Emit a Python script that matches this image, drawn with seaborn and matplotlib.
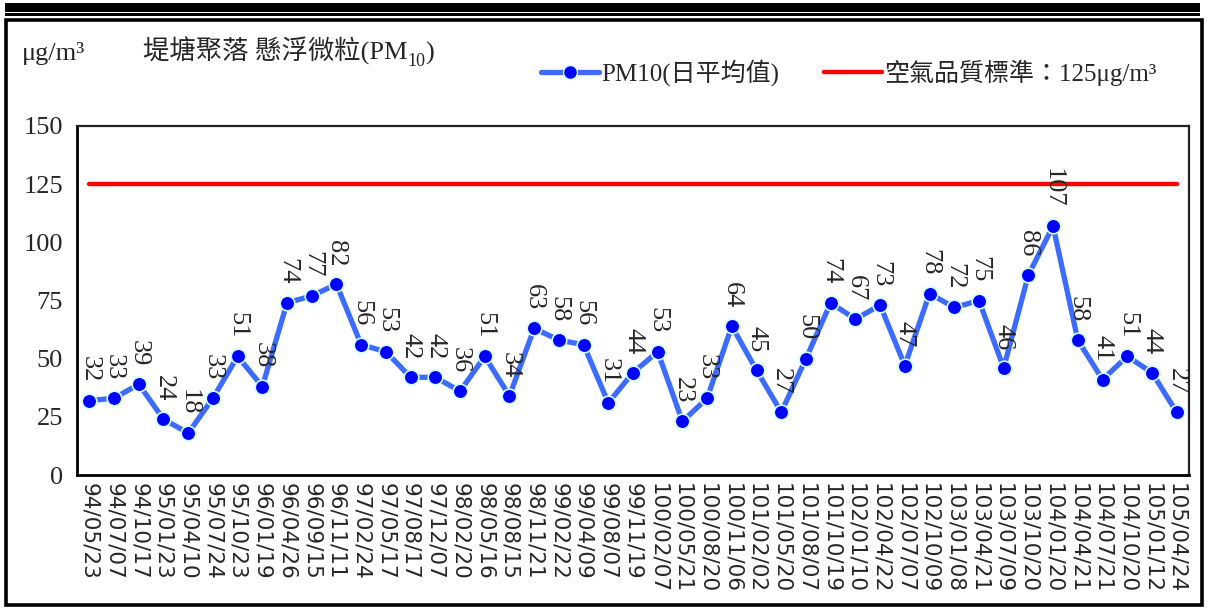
import numpy as np
import pandas as pd
import matplotlib.pyplot as plt
import seaborn as sns
from matplotlib.lines import Line2D
from matplotlib.patches import Rectangle

sns.set_style("white")
plt.rcParams['font.family'] = ['Liberation Serif', 'Noto Sans CJK TC', 'DejaVu Sans']

# sampling dates (ROC calendar) and PM10 daily means
dates = ["94/05/23", "94/07/07", "94/10/17", "95/01/23", "95/04/10", "95/07/24",
         "95/10/23", "96/01/19", "96/04/26", "96/09/15", "96/11/11", "97/02/24",
         "97/05/17", "97/08/17", "97/12/07", "98/02/20", "98/05/16", "98/08/15",
         "98/11/21", "99/02/22", "99/04/09", "99/08/07", "99/11/19", "100/02/07",
         "100/05/21", "100/08/20", "100/11/06", "101/02/02", "101/05/20", "101/08/07",
         "101/10/19", "102/01/10", "102/04/22", "102/07/07", "102/10/09", "103/01/08",
         "103/04/21", "103/07/09", "103/10/20", "104/01/20", "104/04/21", "104/07/21",
         "104/10/20", "105/01/12", "105/04/24"]
pm10 = [32, 33, 39, 24, 18, 33, 51, 38, 74, 77, 82, 56, 53, 42, 42, 36, 51, 34,
        63, 58, 56, 31, 44, 53, 23, 33, 64, 45, 27, 50, 74, 67, 73, 47, 78, 72,
        75, 46, 86, 107, 58, 41, 51, 44, 27]
standard = 125
y_ticks = [0, 25, 50, 75, 100, 125, 150]

df = pd.DataFrame({"pos": np.arange(len(dates)), "date": dates, "pm10": pm10})
df["std"] = standard

W, H = 1211, 610
fig = plt.figure(figsize=(W / 100, H / 100), dpi=100)
ax = fig.add_axes([77 / W, 1 - 475 / H, (1189 - 77) / W, (475 - 126) / H])

sns.lineplot(data=df, x="pos", y="std", ax=ax, color="#FF0000", linewidth=3.2,
             solid_capstyle="round")
sns.lineplot(data=df, x="pos", y="pm10", ax=ax, color="#3B6BFF", linewidth=3.8,
             marker="o", markersize=10.5, markerfacecolor="#0000FF",
             markeredgecolor="#CCFFFF", markeredgewidth=1.2)

for x, v in zip(df["pos"], df["pm10"]):
    ax.annotate(str(v), (x, v), xytext=(0, 13), textcoords="offset points",
                rotation=270, ha="center", va="bottom", fontsize=19)

ax.set_xlim(-0.5, len(dates) - 0.5)
ax.set_ylim(0, 150)
ax.set_yticks(y_ticks)
ax.set_xticks(df["pos"])
ax.set_xticklabels(dates, rotation=270, fontsize=15.5, family="DejaVu Sans")
ax.set_xticks(np.arange(-0.5, len(dates), 1), minor=True)
ax.tick_params(axis="x", which="major", length=0, pad=6)
ax.tick_params(axis="x", which="minor", direction="in", length=8, width=1)
ax.tick_params(axis="y", direction="in", length=5, width=1, pad=10, labelsize=19)
ax.set_xlabel("")
ax.set_ylabel("")

for side in ["left", "bottom"]:
    ax.spines[side].set_linewidth(2)
    ax.spines[side].set_color("black")
for side in ["top", "right"]:
    ax.spines[side].set_linewidth(1.6)
    ax.spines[side].set_color("#222222")

# titles: unit on the left, station name with subscripted PM10
renderer = fig.canvas.get_renderer()
base_y = 1 - 60 / H
fig.text(22 / W, base_y, "μg/m³", fontsize=19, va="baseline", ha="left")
t1 = fig.text(143 / W, base_y, "堤塘聚落 懸浮微粒(PM", fontsize=19,
              va="baseline", ha="left")
x1 = t1.get_window_extent(renderer).x1 / W
t2 = fig.text(x1, base_y - 6 / H, "10", fontsize=13, va="baseline", ha="left")
x2 = t2.get_window_extent(renderer).x1 / W
fig.text(x2, base_y, ")", fontsize=19, va="baseline", ha="left")

handles = [
    Line2D([], [], color="#3B6BFF", linewidth=3.8, marker="o", markersize=10,
           markerfacecolor="#0000FF", markeredgecolor="#CCFFFF"),
    Line2D([], [], color="#FF0000", linewidth=3.2, solid_capstyle="round"),
]
fig.legend(handles, ["PM10(日平均值)", "空氣品質標準：125μg/m³"],
           loc="center", bbox_to_anchor=(849 / W, 1 - 73 / H), ncol=2,
           frameon=False, fontsize=18, handlelength=2.3, handletextpad=0.1,
           columnspacing=1.8)

# outer frame and double rule on top
fig.add_artist(Rectangle((6 / W, 1 - 605 / H), (1196 / W), (585 / H),
                         transform=fig.transFigure, fill=False,
                         edgecolor="black", linewidth=2.6))
fig.add_artist(Rectangle((5 / W, 1 - 11.5 / H), (1195 / W), (8.5 / H),
                         transform=fig.transFigure, facecolor="black",
                         edgecolor="none"))
fig.add_artist(Rectangle((5 / W, 1 - 15.5 / H), (1195 / W), (2.5 / H),
                         transform=fig.transFigure, facecolor="black",
                         edgecolor="none"))

fig.savefig("out.png", dpi=100)
